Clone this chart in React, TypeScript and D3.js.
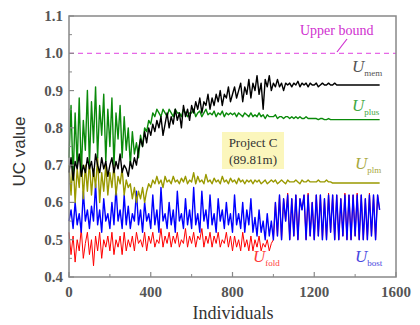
import React from "react";
import * as d3 from "d3";

// Individuals sampled every 10 (index i -> individual i*10), 0..1520
const STEP = 10;

const uMem = [
  0.68,0.72,0.66,0.71,0.69,0.73,0.67,0.70,0.68,0.72,
  0.69,0.71,0.67,0.73,0.70,0.68,0.72,0.69,0.71,0.67,
  0.70,0.72,0.68,0.71,0.69,0.73,0.68,0.70,0.69,0.67,
  0.71,0.69,0.72,0.70,0.74,0.77,0.75,0.79,0.76,0.80,
  0.78,0.81,0.79,0.82,0.80,0.83,0.78,0.81,0.84,0.80,
  0.83,0.81,0.85,0.82,0.84,0.80,0.86,0.83,0.85,0.82,
  0.86,0.84,0.87,0.85,0.88,0.84,0.87,0.86,0.89,0.85,
  0.88,0.86,0.89,0.87,0.90,0.86,0.89,0.88,0.91,0.87,
  0.89,0.91,0.88,0.90,0.92,0.87,0.91,0.89,0.93,0.88,
  0.92,0.90,0.94,0.89,0.92,0.85,0.93,0.91,0.94,0.90,
  0.92,0.91,0.93,0.91,0.92,0.90,0.92,0.915,0.92,0.91,
  0.92,0.915,0.925,0.91,0.92,0.915,0.92,0.91,0.92,0.915,
  0.915,0.92,0.91,0.915,0.92,0.915,0.915,0.92,0.915,0.915,
  0.92,0.915,0.915,0.915,0.915,0.915,0.915,0.915,0.915,0.915,
  0.915,0.915,0.915,0.915,0.915,0.915,0.915,0.915,0.915,0.915,
  0.915,0.915,0.915,
];

const uPlus = [
  0.72,0.86,0.66,0.84,0.70,0.88,0.68,0.82,0.74,0.90,
  0.70,0.87,0.76,0.91,0.72,0.86,0.78,0.89,0.71,0.85,
  0.75,0.88,0.70,0.84,0.77,0.86,0.72,0.83,0.74,0.80,
  0.70,0.79,0.73,0.76,0.72,0.78,0.75,0.80,0.79,0.82,
  0.81,0.84,0.83,0.85,0.84,0.83,0.85,0.84,0.83,0.85,
  0.84,0.83,0.85,0.84,0.84,0.83,0.85,0.84,0.83,0.84,
  0.84,0.85,0.83,0.84,0.845,0.83,0.84,0.85,0.835,0.84,
  0.835,0.845,0.83,0.84,0.835,0.845,0.83,0.84,0.835,0.84,
  0.835,0.84,0.83,0.84,0.835,0.83,0.84,0.835,0.83,0.84,
  0.83,0.835,0.83,0.84,0.83,0.835,0.825,0.835,0.83,0.83,
  0.83,0.835,0.825,0.83,0.83,0.825,0.83,0.83,0.825,0.83,
  0.825,0.83,0.825,0.83,0.825,0.825,0.83,0.825,0.825,0.825,
  0.825,0.825,0.822,0.825,0.825,0.822,0.822,0.825,0.822,0.822,
  0.822,0.822,0.822,0.822,0.822,0.822,0.822,0.822,0.822,0.822,
  0.822,0.822,0.822,0.822,0.822,0.822,0.822,0.822,0.822,0.822,
  0.822,0.822,0.822,
];

const uPlm = [
  0.70,0.62,0.72,0.60,0.69,0.64,0.73,0.61,0.70,0.63,
  0.71,0.62,0.69,0.64,0.72,0.60,0.68,0.63,0.70,0.62,
  0.68,0.64,0.70,0.62,0.67,0.65,0.69,0.62,0.66,0.64,
  0.65,0.61,0.64,0.60,0.63,0.61,0.64,0.60,0.63,0.65,
  0.64,0.66,0.65,0.67,0.65,0.66,0.64,0.67,0.655,0.66,
  0.65,0.67,0.655,0.66,0.65,0.665,0.655,0.67,0.65,0.66,
  0.655,0.68,0.65,0.67,0.655,0.66,0.65,0.675,0.655,0.66,
  0.65,0.665,0.655,0.66,0.65,0.67,0.655,0.66,0.65,0.665,
  0.655,0.66,0.65,0.665,0.655,0.66,0.65,0.66,0.655,0.66,
  0.65,0.66,0.655,0.66,0.65,0.655,0.66,0.65,0.655,0.66,
  0.655,0.66,0.65,0.655,0.66,0.655,0.65,0.66,0.655,0.655,
  0.655,0.66,0.655,0.65,0.66,0.655,0.655,0.66,0.655,0.655,
  0.655,0.655,0.66,0.655,0.655,0.655,0.66,0.655,0.655,0.652,
  0.652,0.652,0.652,0.652,0.652,0.652,0.652,0.652,0.652,0.652,
  0.652,0.652,0.652,0.652,0.652,0.652,0.652,0.652,0.652,0.652,
  0.652,0.652,0.652,
];

const uBost = [
  0.55,0.58,0.53,0.60,0.54,0.57,0.52,0.63,0.55,0.58,
  0.53,0.59,0.55,0.65,0.54,0.58,0.52,0.61,0.55,0.57,
  0.53,0.60,0.54,0.64,0.55,0.58,0.53,0.62,0.54,0.59,
  0.53,0.57,0.55,0.63,0.54,0.58,0.52,0.60,0.55,0.57,
  0.53,0.62,0.54,0.58,0.52,0.64,0.55,0.57,0.53,0.60,
  0.54,0.58,0.52,0.63,0.55,0.57,0.53,0.61,0.54,0.58,
  0.53,0.64,0.54,0.57,0.52,0.63,0.55,0.58,0.53,0.62,
  0.54,0.57,0.52,0.61,0.55,0.58,0.53,0.60,0.54,0.57,
  0.52,0.62,0.54,0.57,0.53,0.60,0.52,0.58,0.54,0.61,
  0.52,0.56,0.51,0.58,0.52,0.55,0.50,0.57,0.51,0.55,
  0.50,0.60,0.51,0.62,0.50,0.61,0.55,0.62,0.50,0.61,
  0.51,0.62,0.50,0.61,0.58,0.62,0.50,0.62,0.51,0.60,
  0.50,0.62,0.51,0.62,0.50,0.61,0.50,0.62,0.52,0.62,
  0.50,0.62,0.50,0.61,0.51,0.62,0.50,0.62,0.50,0.62,
  0.51,0.62,0.50,0.62,0.50,0.61,0.50,0.62,0.51,0.62,
  0.50,0.62,0.58,
];

const uFold = [
  0.52,0.46,0.51,0.44,0.50,0.47,0.53,0.45,0.49,0.52,
  0.46,0.50,0.43,0.51,0.47,0.52,0.45,0.50,0.48,0.51,
  0.47,0.52,0.46,0.50,0.48,0.51,0.46,0.52,0.47,0.50,
  0.48,0.51,0.47,0.52,0.49,0.50,0.48,0.52,0.47,0.51,
  0.49,0.52,0.48,0.50,0.49,0.53,0.48,0.51,0.49,0.52,
  0.48,0.51,0.49,0.52,0.48,0.50,0.49,0.53,0.48,0.51,
  0.49,0.52,0.48,0.51,0.50,0.53,0.48,0.51,0.49,0.52,
  0.48,0.51,0.49,0.52,0.48,0.50,0.49,0.52,0.48,0.51,
  0.47,0.51,0.48,0.50,0.47,0.52,0.48,0.50,0.47,0.51,
  0.47,0.50,0.48,0.51,0.47,0.49,0.48,0.50,0.47,0.49,
  0.50,0.60,0.51,0.62,0.50,0.61,0.55,0.625,0.50,0.61,
  0.51,0.62,0.50,0.61,0.58,0.62,0.50,0.625,0.51,0.60,
  0.50,0.62,0.51,0.62,0.50,0.61,0.50,0.625,0.52,0.62,
  0.50,0.62,0.50,0.61,0.51,0.625,0.50,0.62,0.50,0.62,
  0.51,0.625,0.50,0.62,0.50,0.61,0.50,0.625,0.51,0.62,
  0.50,0.62,0.58,
];

const xTicks = [0, 400, 800, 1200, 1600];
const xMinor = [200, 600, 1000, 1400];
const yTicks = [0.4, 0.5, 0.6, 0.7, 0.8, 0.9, 1.0, 1.1];
const yMinor = [0.45, 0.55, 0.65, 0.75, 0.85, 0.95, 1.05];
const upperBound = 1.0;

const series = [
  { name: "fold", values: uFold, color: "#ff0000", width: 1.0 },
  { name: "bost", values: uBost, color: "#0000ff", width: 1.4 },
  { name: "plm", values: uPlm, color: "#999900", width: 1.4 },
  { name: "plus", values: uPlus, color: "#0a8a0a", width: 1.4 },
  { name: "mem", values: uMem, color: "#000000", width: 1.4 },
];

const W = 420, H = 325;
const M = { left: 69, right: 396, top: 16, bottom: 277 };

export default function App() {
  const x = d3.scaleLinear().domain([0, 1600]).range([M.left, M.right]);
  const y = d3.scaleLinear().domain([0.4, 1.1]).range([M.bottom, M.top]);
  const line = d3
    .line<number>()
    .x((_, i) => x(i * STEP))
    .y((d) => y(d));
  const serif = "'Liberation Serif', 'Times New Roman', serif";
  const sans = "'Liberation Sans', Arial, sans-serif";
  const axisColor = "#888";

  const label = (
    sub: string,
    px: number,
    py: number,
    color: string
  ) => (
    <text x={px} y={py} fontFamily={serif} fill={color}>
      <tspan fontStyle="italic" fontSize={17}>U</tspan>
      <tspan fontSize={9} dy={4}>{sub}</tspan>
    </text>
  );

  return (
    <svg
      width={W}
      height={H}
      style={{ position: "absolute", left: 0, top: 0, background: "#fff" }}
    >
      <rect x={0} y={0} width={W} height={H} fill="#fff" />
      <g>
        {series.map((s) => (
          <path
            key={s.name}
            d={line(s.values) || ""}
            fill="none"
            stroke={s.color}
            strokeWidth={s.width}
            strokeLinejoin="round"
          />
        ))}
      </g>
      {/* upper bound */}
      <line
        x1={M.left}
        x2={M.right}
        y1={y(upperBound)}
        y2={y(upperBound)}
        stroke="#e040e0"
        strokeWidth={1}
        strokeDasharray="5,4"
      />
      <text x={300} y={35} fontFamily={serif} fontSize={14} fill="#d030d0">
        Upper bound
      </text>
      <line x1={337} y1={52} x2={347} y2={39} stroke="#d030d0" strokeWidth={1.2} />

      {/* annotation */}
      <rect x={222} y={132} width={62} height={37} fill="#fbf6bc" />
      <text x={253} y={147} textAnchor="middle" fontFamily={serif} fontSize={13} fill="#333">
        Project C
      </text>
      <text x={253} y={164} textAnchor="middle" fontFamily={serif} fontSize={13} fill="#333">
        (89.81m)
      </text>

      {label("mem", 352, 72, "#555")}
      {label("plus", 352, 111, "#43a843")}
      {label("plm", 355, 169, "#a8a840")}
      {label("fold", 253, 262, "#ff3a3a")}
      {label("bost", 355, 262, "#4848e0")}

      {/* frame */}
      <rect
        x={M.left}
        y={M.top}
        width={M.right - M.left}
        height={M.bottom - M.top}
        fill="none"
        stroke={axisColor}
        strokeWidth={1.5}
      />
      {xTicks.map((t) => (
        <g key={"xt" + t}>
          <line x1={x(t)} x2={x(t)} y1={M.bottom} y2={M.bottom - 5} stroke={axisColor} strokeWidth={1.2} />
          <text
            x={x(t)}
            y={297}
            textAnchor="middle"
            fontFamily={serif}
            fontSize={15}
            fontWeight="bold"
            fill="#555"
          >
            {t}
          </text>
        </g>
      ))}
      {xMinor.map((t) => (
        <line key={"xm" + t} x1={x(t)} x2={x(t)} y1={M.bottom} y2={M.bottom - 3} stroke={axisColor} strokeWidth={1} />
      ))}
      {yTicks.map((t) => (
        <g key={"yt" + t}>
          <line x1={M.left} x2={M.left + 5} y1={y(t)} y2={y(t)} stroke={axisColor} strokeWidth={1.2} />
          <text
            x={63}
            y={y(t) + 5}
            textAnchor="end"
            fontFamily={serif}
            fontSize={15}
            fontWeight="bold"
            fill="#555"
          >
            {t.toFixed(1)}
          </text>
        </g>
      ))}
      {yMinor.map((t) => (
        <line key={"ym" + t} x1={M.left} x2={M.left + 3} y1={y(t)} y2={y(t)} stroke={axisColor} strokeWidth={1} />
      ))}
      <text
        x={233}
        y={319}
        textAnchor="middle"
        fontFamily={serif}
        fontSize={18}
        fill="#333"
      >
        Individuals
      </text>
      <text
        transform={`translate(25,${(M.top + M.bottom) / 2 + 5}) rotate(-90)`}
        textAnchor="middle"
        fontFamily={sans}
        fontSize={17}
        fill="#333"
      >
        UC value
      </text>
    </svg>
  );
}
